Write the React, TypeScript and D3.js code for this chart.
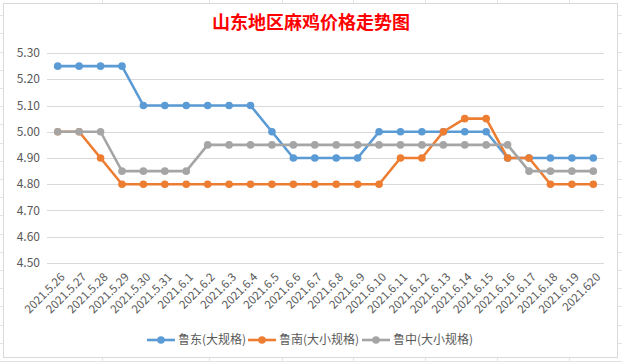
import React from 'react';
import * as d3 from 'd3';

// 日期标签
const dates = [
  '2021.5.26', '2021.5.27', '2021.5.28', '2021.5.29', '2021.5.30', '2021.5.31',
  '2021.6.1', '2021.6.2', '2021.6.3', '2021.6.4', '2021.6.5', '2021.6.6', '2021.6.7',
  '2021.6.8', '2021.6.9', '2021.6.10', '2021.6.11', '2021.6.12', '2021.6.13',
  '2021.6.14', '2021.6.15', '2021.6.16', '2021.6.17', '2021.6.18', '2021.6.19', '2021.620'
];

// 三个产区价格
const ludong = [5.25, 5.25, 5.25, 5.25, 5.10, 5.10, 5.10, 5.10, 5.10, 5.10, 5.00, 4.90, 4.90,
  4.90, 4.90, 5.00, 5.00, 5.00, 5.00, 5.00, 5.00, 4.90, 4.90, 4.90, 4.90, 4.90];
const lunan = [5.00, 5.00, 4.90, 4.80, 4.80, 4.80, 4.80, 4.80, 4.80, 4.80, 4.80, 4.80, 4.80,
  4.80, 4.80, 4.80, 4.90, 4.90, 5.00, 5.05, 5.05, 4.90, 4.90, 4.80, 4.80, 4.80];
const luzhong = [5.00, 5.00, 5.00, 4.85, 4.85, 4.85, 4.85, 4.95, 4.95, 4.95, 4.95, 4.95, 4.95,
  4.95, 4.95, 4.95, 4.95, 4.95, 4.95, 4.95, 4.95, 4.95, 4.85, 4.85, 4.85, 4.85];

const seriesNames = ['鲁东(大规格)', '鲁南(大小规格)', '鲁中(大小规格)'];
const yTicks = [4.5, 4.6, 4.7, 4.8, 4.9, 5.0, 5.1, 5.2, 5.3];

const colors = ['#5B9BD5', '#ED7D31', '#A5A5A5'];
const W = 622;
const H = 362;
const font = '"Noto Sans CJK SC", "Open Sans", sans-serif';

export default function App() {
  const x = d3.scalePoint<string>().domain(dates).range([47, 604]).padding(0.5);
  const y = d3.scaleLinear().domain([4.5, 5.3]).range([263, 53]);
  const all = [ludong, lunan, luzhong];

  const line = d3.line<number>()
    .x((_, i) => x(dates[i])!)
    .y(d => y(d));

  // 背景表格线（工作表网格）
  const sheetCols = [102, 209, 282, 353, 425, 497, 569];
  const sheetRows = d3.range(-3, H, 18.2);

  const legendX = [147, 248, 362];

  return (
    <svg width={W} height={H} style={{ position: 'absolute', left: 0, top: 0 }} fontFamily={font}>
      <rect width={W} height={H} fill="#fff" />
      <g stroke="#e3e3e3" strokeWidth={1}>
        {sheetCols.map(c => <line key={'c' + c} x1={c + 0.5} x2={c + 0.5} y1={0} y2={H} />)}
        {sheetRows.map(r => <line key={'r' + r} x1={0} x2={W} y1={Math.round(r) + 0.5} y2={Math.round(r) + 0.5} />)}
      </g>
      <rect x={3.5} y={3.5} width={614} height={354} fill="#fff" stroke="#d9d9d9" />

      <text x={311} y={29} textAnchor="middle" fill="#FF0000" fontSize={18} fontWeight="bold">
        山东地区麻鸡价格走势图
      </text>

      <g>
        {yTicks.map(t => (
          <g key={t}>
            <line x1={47} x2={604} y1={Math.round(y(t)) + 0.5} y2={Math.round(y(t)) + 0.5} stroke="#d9d9d9" />
            <text x={40} y={y(t)} dy="0.35em" textAnchor="end" fontSize={12} fill="#595959">
              {d3.format('.2f')(t)}
            </text>
          </g>
        ))}
      </g>

      <g>
        {dates.map(d => (
          <text key={d} transform={`translate(${x(d)! + 5},${275}) rotate(-45)`} textAnchor="end"
            dy="0.35em" fontSize={11.5} fill="#595959">
            {d}
          </text>
        ))}
      </g>

      {all.map((s, k) => (
        <g key={k}>
          <path d={line(s)!} fill="none" stroke={colors[k]} strokeWidth={2.6} strokeLinejoin="round" />
          {s.map((v, i) => (
            <circle key={i} cx={x(dates[i])} cy={y(v)} r={3.8} fill={colors[k]} />
          ))}
        </g>
      ))}

      <g>
        {seriesNames.map((n, k) => (
          <g key={n} transform={`translate(${legendX[k]},340)`}>
            <line x1={0} x2={28} y1={0} y2={0} stroke={colors[k]} strokeWidth={2.6} />
            <circle cx={14} cy={0} r={3.8} fill={colors[k]} />
            <text x={31} y={0} dy="0.35em" fontSize={12} fill="#595959">{n}</text>
          </g>
        ))}
      </g>
    </svg>
  );
}
